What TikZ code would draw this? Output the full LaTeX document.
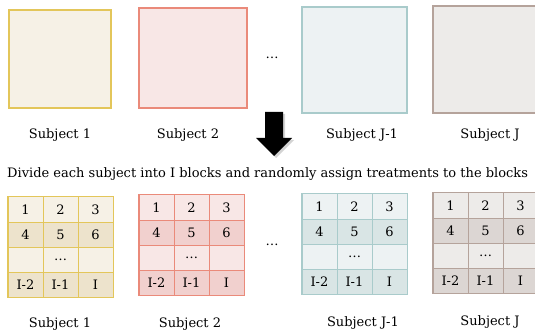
\documentclass[tikz,border=0pt]{standalone}
\usepackage{fontspec}
\setmainfont{DejaVu Serif}
\usetikzlibrary{shadows}
\definecolor{yb}{HTML}{E3C65A}\definecolor{yl}{HTML}{F6F1E6}\definecolor{yd}{HTML}{EDE3CC}
\definecolor{rb}{HTML}{EA8A7A}\definecolor{rl}{HTML}{F8E7E6}\definecolor{rd}{HTML}{F1D0CE}
\definecolor{tb}{HTML}{A9CBCB}\definecolor{tl}{HTML}{EDF2F3}\definecolor{td}{HTML}{D9E5E5}
\definecolor{gb}{HTML}{B5A39B}\definecolor{gl}{HTML}{EDEBE9}\definecolor{gd}{HTML}{DCD6D3}
\tikzset{
  lcell/.style={draw=cb,fill=cl,line width=1pt,minimum width=35pt,minimum height=25pt,inner sep=0pt},
  dcell/.style={lcell,fill=cd},
  subj/.style 2 args={draw=#1,fill=#2,line width=1.5pt,inner sep=0pt},
  lbl/.style={inner sep=1pt},
}
\newcommand\mygrid[4]{%
\begin{scope}[shift={(#2,#3)}]
\colorlet{cb}{#4b}\colorlet{cl}{#4l}\colorlet{cd}{#4d}
\node[lcell] (#1-11) at (17.5,12.5) {1};
\node[lcell] (#1-12) at (52.5,12.5) {2};
\node[lcell] (#1-13) at (87.5,12.5) {3};
\node[dcell] (#1-21) at (17.5,37.5) {4};
\node[dcell] (#1-22) at (52.5,37.5) {5};
\node[dcell] (#1-23) at (87.5,37.5) {6};
\node[lcell] (#1-31) at (17.5,62.5) {};
\node[lcell] (#1-32) at (52.5,62.5) {\ldots};
\node[lcell] (#1-33) at (87.5,62.5) {};
\node[dcell] (#1-41) at (17.5,87.5) {I-2};
\node[dcell] (#1-42) at (52.5,87.5) {I-1};
\node[dcell] (#1-43) at (87.5,87.5) {I};
\draw[cb,line width=1.5pt] (#1-11.north west) rectangle (#1-43.south east);
\end{scope}}
\begin{document}
\begin{tikzpicture}[x=1pt,y=-1pt,font=\fontsize{13}{15}\selectfont]
\useasboundingbox (0,0) rectangle (535,331);
% top subjects
\node[subj={yb}{yl},minimum width=102pt,minimum height=98pt] (s1) at (60,59) {};
\node[subj={rb}{rl},minimum width=108pt,minimum height=100pt] (s2) at (193,58) {};
\node[subj={tb}{tl},minimum width=105pt,minimum height=106pt] (s3) at (354.5,60) {};
\node[subj={gb}{gl},minimum width=105pt,minimum height=107pt] (s4) at (485.5,59.5) {};
\node (d1) at (272,58) {\ldots};
\node[lbl] (l1) at (60,135) {Subject 1};
\node[lbl] (l2) at (188,135) {Subject 2};
\node[lbl] (l3) at (362,135) {Subject J-1};
\node[lbl] (l4) at (490,135) {Subject J};
% arrow
\fill[black,drop shadow={opacity=0.35,shadow xshift=2pt,shadow yshift=-2pt}]
  (265,112) -- (283,112) -- (283,138) -- (292,138) -- (274,156) -- (256,138) -- (265,138) -- cycle;
\node[anchor=west,inner sep=0pt] (txt) at (7,174) {Divide each subject into I blocks and randomly assign treatments to the blocks};
% grids
\mygrid{g1}{8}{197}{y}
\mygrid{g2}{139}{195}{r}
\mygrid{g3}{302}{194}{t}
\mygrid{g4}{433}{193}{g}
\node (d2) at (272,245) {\ldots};
\node[lbl] (b1) at (60,324) {Subject 1};
\node[lbl] (b2) at (190,324) {Subject 2};
\node[lbl] (b3) at (363,323) {Subject J-1};
\node[lbl] (b4) at (490,322) {Subject J};
\end{tikzpicture}
\end{document}
